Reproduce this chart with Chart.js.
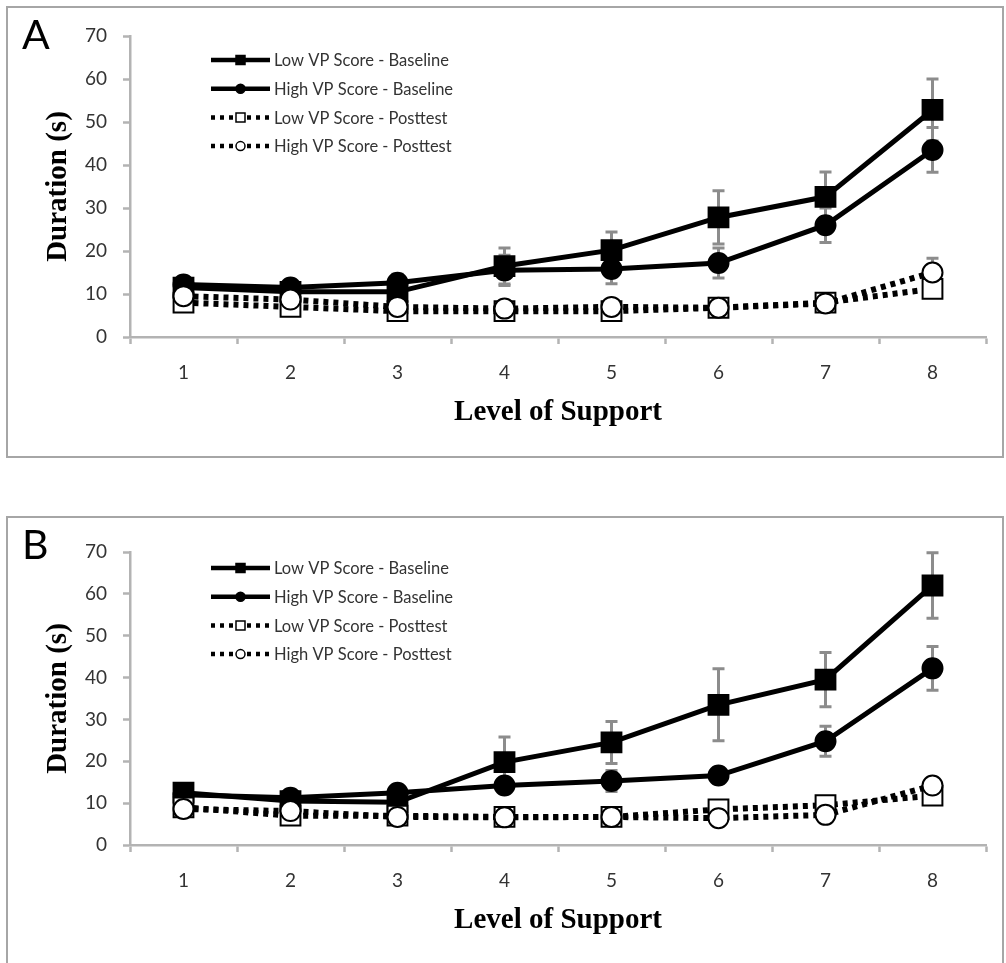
<!DOCTYPE html>
<html>
<head>
<meta charset="utf-8">
<script src="https://cdn.jsdelivr.net/npm/chart.js@4.4.1/dist/chart.umd.min.js"></script>
<style>
  body { margin: 0; background: #fff; width: 1006px; height: 963px; overflow: hidden; position: relative; }
  .panel { position: absolute; left: 6px; width: 994px; border: 2px solid #a6a6a6; background: #fff; }
  #panelA { top: 6px; height: 448px; }
  #panelB { top: 516px; height: 470px; }
  .tag { position: absolute; font-family: Lato, sans-serif; font-size: 41px; line-height: 40px; color: #000; }
  canvas { position: absolute; left: 0; top: 0; }
</style>
</head>
<body>
<div class="panel" id="panelA"><canvas id="chartA" width="994" height="448"></canvas></div>
<div class="panel" id="panelB"><canvas id="chartB" width="994" height="448"></canvas></div>
<div class="tag" style="left:22px; top:14px;">A</div>
<div class="tag" style="left:22px; top:524px;">B</div>
<script>
// x categories
const levels = ["1", "2", "3", "4", "5", "6", "7", "8"];
const seriesNames = ["Low VP Score - Baseline", "High VP Score - Baseline", "Low VP Score - Posttest", "High VP Score - Posttest"];

// panel A
const lowBaseA = [11.5, 10.5, 10.5, 16.5, 20.2, 27.8, 32.6, 52.8];
const lowBaseAErr = [1, 1, 3, 4.2, 4.2, 6.2, 5.8, 7.2];
const highBaseA = [12.2, 11.5, 12.6, 15.5, 15.8, 17.2, 26, 43.5];
const highBaseAErr = [1, 1, 2, 3.5, 3.4, 3.5, 4, 5.2];
const lowPostA = [8, 7, 6, 6, 6, 6.8, 8, 11.2];
const lowPostAErr = [1, 1, 1, 1, 1, 1, 1, 1.5];
const highPostA = [9.5, 8.7, 7, 6.6, 7, 6.8, 7.8, 15];
const highPostAErr = [1, 1, 1, 1, 1, 1, 1, 3.3];

// panel B
const lowBaseB = [12.5, 10.5, 10.2, 19.8, 24.5, 33.5, 39.5, 62];
const lowBaseBErr = [2, 1, 1.5, 6, 5, 8.6, 6.5, 7.8];
const highBaseB = [12, 11.3, 12.5, 14.2, 15.3, 16.6, 24.8, 42.2];
const highBaseBErr = [1, 1, 1, 1.5, 2.5, 1.8, 3.6, 5.2];
const lowPostB = [9, 7, 7, 6.7, 6.7, 8.5, 9.5, 11.8];
const lowPostBErr = [1, 1, 1, 1, 1, 1, 1, 1];
const highPostB = [8.6, 8.1, 6.7, 6.6, 6.7, 6.4, 7.2, 14.2];
const highPostBErr = [1, 1, 1, 1, 1, 1, 1, 1.5];

const yTicks = [0, 10, 20, 30, 40, 50, 60, 70];

// marker / line styles per series
const styles = [
    { pointStyle: "rect", fill: "#000", radius: 14, dash: [] },
    { pointStyle: "circle", fill: "#000", radius: 10, dash: [] },
    { pointStyle: "rect", fill: "#fff", radius: 14, dash: [5, 5] },
    { pointStyle: "circle", fill: "#fff", radius: 10, dash: [5, 5] }
];

// error bars, drawn under the lines
const errorBars = {
    id: "errorBars",
    beforeDatasetsDraw(chart) {
        const ctx = chart.ctx, y = chart.scales.y;
        ctx.save();
        ctx.strokeStyle = "#8c8c8c";
        ctx.lineWidth = 3;
        chart.data.datasets.forEach((ds, i) => {
            chart.getDatasetMeta(i).data.forEach((pt, j) => {
                const e = ds.errors[j];
                if (!e) return;
                const top = y.getPixelForValue(ds.data[j] + e);
                const bot = y.getPixelForValue(ds.data[j] - e);
                ctx.beginPath();
                ctx.moveTo(pt.x, top); ctx.lineTo(pt.x, bot);
                ctx.moveTo(pt.x - 6, top); ctx.lineTo(pt.x + 6, top);
                ctx.moveTo(pt.x - 6, bot); ctx.lineTo(pt.x + 6, bot);
                ctx.stroke();
            });
        });
        ctx.restore();
    }
};

// legend with line + marker samples
const lineLegend = {
    id: "lineLegend",
    afterDraw(chart, args, opts) {
        const ctx = chart.ctx;
        ctx.save();
        chart.data.datasets.forEach((ds, i) => {
            const st = styles[i];
            const y = opts.top + i * 28.7;
            ctx.strokeStyle = "#000";
            ctx.lineWidth = 4.5;
            ctx.setLineDash(st.dash.length ? [4, 5] : []);
            ctx.beginPath();
            ctx.moveTo(203, y); ctx.lineTo(262, y);
            ctx.stroke();
            ctx.setLineDash([]);
            ctx.fillStyle = st.fill;
            ctx.lineWidth = 1.5;
            ctx.beginPath();
            if (st.pointStyle === "rect") ctx.rect(228, y - 4.5, 9, 9);
            else ctx.arc(232.5, y, 4.5, 0, Math.PI * 2);
            ctx.fill();
            ctx.stroke();
            ctx.fillStyle = "#333";
            ctx.font = "16.5px Lato, sans-serif";
            ctx.textBaseline = "middle";
            ctx.fillText(ds.label, 266, y + 1);
        });
        ctx.restore();
    }
};

function makeChart(id, series, errors, box) {
    const datasets = series.map((data, i) => ({
        label: seriesNames[i],
        data: data,
        errors: errors[i],
        borderColor: "#000",
        borderWidth: styles[i].dash.length ? 6 : 5,
        borderDash: styles[i].dash,
        pointStyle: styles[i].pointStyle,
        pointRadius: styles[i].radius,
        pointBackgroundColor: styles[i].fill,
        pointBorderColor: "#000",
        pointBorderWidth: 2,
        tension: 0,
        order: 4 - i
    }));

    return new Chart(document.getElementById(id), {
        type: "line",
        data: { labels: levels, datasets: datasets },
        plugins: [errorBars, lineLegend],
        options: {
            responsive: false,
            animation: false,
            devicePixelRatio: 1,
            layout: { padding: { top: box.top, right: 14, left: 0, bottom: 0 } },
            plugins: {
                legend: { display: false },
                tooltip: { enabled: false },
                lineLegend: { top: box.legendTop }
            },
            scales: {
                x: {
                    offset: true,
                    grid: { offset: true, drawOnChartArea: false, tickLength: 7, tickColor: "#b3b3b3", tickWidth: 2.5 },
                    border: { color: "#b3b3b3", width: 2.5 },
                    ticks: { color: "#333", padding: box.xPad, font: { family: "Lato, sans-serif", size: 19 } },
                    title: {
                        display: true, text: "Level of Support", color: "#000",
                        font: { family: "Liberation Serif, serif", size: 29, weight: "bold" },
                        padding: { top: 0, bottom: box.xTitlePad }
                    },
                    afterFit: s => { s.height = 448 - box.bottom; }
                },
                y: {
                    min: 0, max: 70,
                    afterBuildTicks: s => { s.ticks = yTicks.map(v => ({ value: v })); },
                    grid: { drawOnChartArea: false, tickLength: 7, tickColor: "#b3b3b3", tickWidth: 2.5 },
                    border: { color: "#b3b3b3", width: 2.5 },
                    ticks: { color: "#333", padding: 16, font: { family: "Lato, sans-serif", size: 19 } },
                    title: {
                        display: true, text: "Duration (s)", color: "#000",
                        font: { family: "Liberation Serif, serif", size: 29, weight: "bold" },
                        padding: { top: 33, bottom: 0 }
                    },
                    afterFit: s => { s.width = 122; }
                }
            }
        }
    });
}

makeChart("chartA",
    [lowBaseA, highBaseA, lowPostA, highPostA],
    [lowBaseAErr, highBaseAErr, lowPostAErr, highPostAErr],
    { top: 28, bottom: 329, legendTop: 52, xPad: 17, xTitlePad: 26 });

makeChart("chartB",
    [lowBaseB, highBaseB, lowPostB, highPostB],
    [lowBaseBErr, highBaseBErr, lowPostBErr, highPostBErr],
    { top: 34, bottom: 327, legendTop: 50, xPad: 17, xTitlePad: 28 });
</script>
</body>
</html>
